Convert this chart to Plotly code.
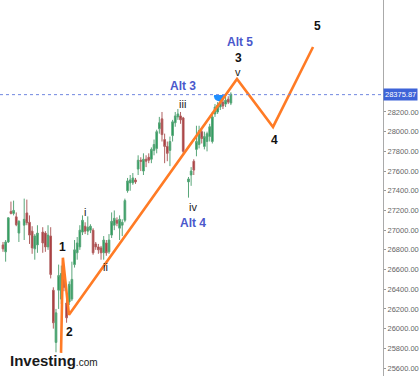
import plotly.graph_objects as go

# trading-day index of each candle
days = list(range(0, 7)) + list(range(8, 14)) + list(range(15, 69)) + list(range(70, 87))

opens = [26850, 26780, 26880, 27190, 27170, 27135, 26970, 27050, 27175, 27080, 26990, 26810, 26850,
         26980, 26970, 26830, 26940, 26390, 25860, 26390, 26300, 26540, 26260, 26270, 26300, 26650,
         26770, 26830, 26980, 27040, 26990, 27000, 27000, 26860, 26830, 26820, 26770, 26870, 26780,
         26950, 27050, 27100, 27020, 27050, 27100, 27400, 27480, 27480, 27510, 27620, 27710, 27600,
         27720, 27740, 27720, 27810, 27830, 28030, 28130, 27920, 27850, 27810, 27960, 28090, 28150,
         28160, 28140, 27490, 27560, 27700, 27820, 27870, 28000, 27850, 27900, 27950, 27900, 28180,
         28200, 28250, 28300, 28280, 28330, 28290]
highs = [26880, 26900, 27130, 27290, 27300, 27180, 27100, 27320, 27310, 27150, 27040, 26960, 27050,
         27030, 26990, 27050, 27030, 26420, 26200, 26650, 26640, 26600, 26300, 26480, 26680, 26900,
         26930, 27050, 27150, 27080, 27140, 27060, 27020, 26880, 26860, 26840, 26940, 26900, 26960,
         27180, 27200, 27130, 27150, 27110, 27320, 27530, 27560, 27580, 27530, 27760, 27740, 27780,
         27760, 27780, 27840, 27920, 28020, 28150, 28200, 27980, 27900, 27950, 28120, 28200, 28230,
         28200, 28150, 27540, 27640, 27720, 28060, 28060, 28020, 28000, 28000, 28080, 28200, 28280,
         28300, 28340, 28330, 28360, 28360, 28400]
lows = [26780, 26680, 26870, 27160, 27150, 27040, 26880, 26900, 27050, 26860, 26760, 26700, 26770,
        26770, 26780, 26800, 26510, 26000, 25760, 26200, 26250, 26380, 26060, 26240, 26280, 26620,
        26700, 26800, 26950, 26960, 26950, 26970, 26750, 26800, 26760, 26700, 26700, 26740, 26760,
        26920, 27000, 27040, 26900, 26940, 27080, 27380, 27400, 27460, 27470, 27560, 27600, 27560,
        27640, 27680, 27680, 27760, 27780, 27980, 27900, 27680, 27700, 27650, 27900, 28050, 28120,
        28080, 27780, 27330, 27450, 27560, 27750, 27830, 27880, 27820, 27800, 27900, 27880, 28150,
        28180, 28220, 28230, 28250, 28280, 28270]
closes = [26810, 26880, 27125, 27170, 27200, 27055, 27090, 27110, 27075, 26950, 26820, 26940, 26970,
          26870, 26830, 26950, 26550, 26060, 26160, 26540, 26560, 26420, 26110, 26450, 26500, 26800,
          26870, 27000, 27100, 26990, 27030, 27040, 26770, 26830, 26800, 26770, 26900, 26770, 26900,
          27090, 27120, 27070, 27110, 27080, 27300, 27500, 27510, 27530, 27490, 27710, 27700, 27720,
          27700, 27710, 27820, 27870, 28000, 28090, 27970, 27850, 27780, 27900, 28100, 28160, 28180,
          28120, 27800, 27520, 27600, 27610, 27900, 28010, 27930, 27950, 27980, 28050, 28150, 28250,
          28270, 28300, 28260, 28320, 28300, 28380]

last_price = 28375.87

# Elliott wave projection (orange)
wave_x = [21.9, 22.6, 24.9, 88.3, 101.9, 117.0]
wave_y = [25754, 26720, 26140, 28535, 28048, 28860]

# wave labels: (text, x, y, color, size, bold)
labels = [
    ("1", 22.6, 26830, "#111111", 12, True),
    ("2", 25.0, 25966, "#111111", 12, True),
    ("i", 30.9, 27184, "#222222", 11, False),
    ("ii", 38.5, 26626, "#222222", 11, False),
    ("iii", 67.9, 28281, "#222222", 11, False),
    ("iv", 71.7, 27235, "#222222", 11, False),
    ("Alt 4", 71.7, 27073, "#4a58cc", 12, True),
    ("Alt 3", 68.0, 28464, "#4a58cc", 12, True),
    ("v", 88.7, 28606, "#222222", 11, False),
    ("3", 88.7, 28748, "#111111", 12, True),
    ("Alt 5", 89.4, 28911, "#4a58cc", 12, True),
    ("4", 102.6, 27916, "#111111", 12, True),
    ("5", 118.5, 29073, "#111111", 12, True),
]

tick_vals = [25600, 25800, 26000, 26200, 26400, 26600, 26800, 27000, 27200, 27400, 27600, 27800, 28000, 28200]

fig = go.Figure()
fig.add_trace(go.Candlestick(
    x=days, open=opens, high=highs, low=lows, close=closes,
    increasing=dict(line=dict(color="#5aa67a", width=1), fillcolor="#1f9b55"),
    decreasing=dict(line=dict(color="#b06060", width=1), fillcolor="#ad3034"),
    whiskerwidth=0, showlegend=False, hoverinfo="skip",
))
# current price marker (half circle on the price line)
fig.add_trace(go.Scatter(x=[81.5], y=[last_price - 15], mode="markers",
                         marker=dict(symbol="circle", size=10, color="#1e8fff"),
                         showlegend=False, hoverinfo="skip"))
fig.add_trace(go.Scatter(x=[81.5], y=[last_price + 52], mode="markers",
                         marker=dict(symbol="square", size=11, color="white"),
                         showlegend=False, hoverinfo="skip"))
fig.add_trace(go.Scatter(x=wave_x, y=wave_y, mode="lines",
                         line=dict(color="#ff7b25", width=2.6),
                         showlegend=False, hoverinfo="skip"))

fig.add_shape(type="line", xref="paper", x0=0, x1=1, yref="y", y0=last_price, y1=last_price,
              line=dict(color="#6f86e0", width=1, dash="dot"))

for t, x, y, c, s, b in labels:
    fig.add_annotation(x=x, y=y, text=f"<b>{t}</b>" if b else t, showarrow=False,
                       font=dict(family="Arial, Liberation Sans, sans-serif", size=s, color=c))

fig.add_annotation(xref="paper", x=1.0, y=last_price, xanchor="left", yanchor="middle",
                   text=f"{last_price:.2f}", showarrow=False, bgcolor="#3d63d8",
                   font=dict(family="Arial, Liberation Sans, sans-serif", size=7.5, color="white"),
                   borderpad=1, xshift=0)

fig.add_annotation(xref="paper", yref="paper", x=0.02, y=0.012, xanchor="left", yanchor="bottom",
                   text="<b>Investing</b><span style='font-size:10px'>.com</span>",
                   showarrow=False,
                   font=dict(family="Arial, Liberation Sans, sans-serif", size=15, color="#1a1a1a"))

fig.update_layout(
    width=420, height=376,
    margin=dict(l=0, r=37, t=0, b=0),
    paper_bgcolor="white", plot_bgcolor="white",
    boxgap=0.1,
    xaxis=dict(range=[-1.13, 143.4], visible=False, showgrid=False, rangeslider=dict(visible=False)),
    yaxis=dict(range=[25519, 29337], side="right", showgrid=False, zeroline=False, automargin=False,
               tickvals=tick_vals, tickformat=".2f", ticks="outside", ticklen=2,
               tickcolor="#999", showline=True, linecolor="#aaaaaa", linewidth=1,
               tickfont=dict(family="Arial, Liberation Sans, sans-serif", size=7.5, color="#666")),
)

fig.write_html("out.html", config={"displayModeBar": False},
               post_script="document.body.style.margin='0';")
